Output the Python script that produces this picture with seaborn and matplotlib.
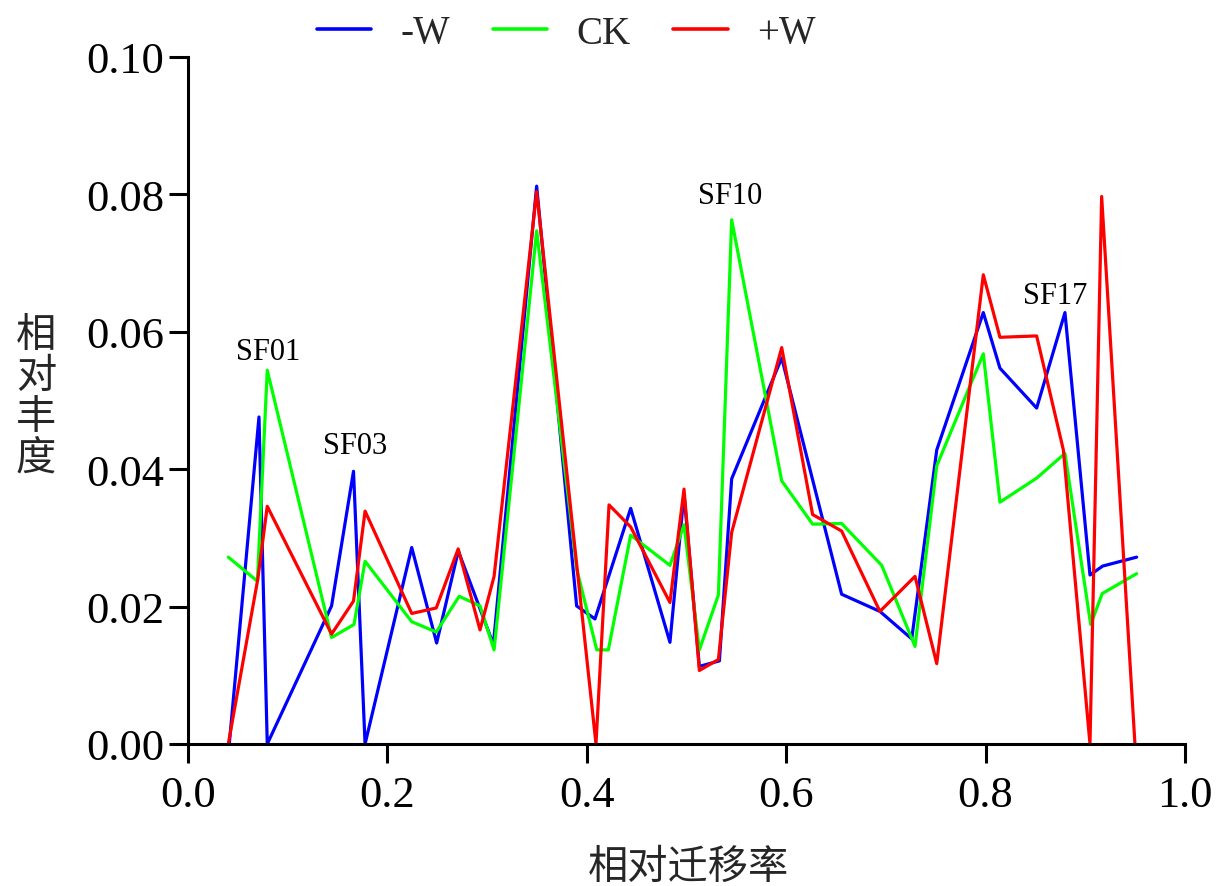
import numpy as np
import pandas as pd
import matplotlib
matplotlib.use("Agg")
import matplotlib.pyplot as plt
import seaborn as sns

# Relative abundance of each band against its relative migration rate
series_names = ["-W", "CK", "+W"]
series_colors = ["#0000FF", "#00FF00", "#FF0000"]

x_minus_w = [0.0414, 0.0712, 0.0795, 0.144, 0.166, 0.1776, 0.2244, 0.2494, 0.2711,
             0.3063, 0.3497, 0.3898, 0.4082, 0.444, 0.4834, 0.4975, 0.5129, 0.533,
             0.5453, 0.5955, 0.6556, 0.694, 0.7259, 0.751, 0.7977, 0.8144, 0.8512,
             0.8796, 0.9047, 0.9174, 0.9515]
y_minus_w = [0.0, 0.0476, 0.0, 0.0201, 0.0397, 0.0, 0.0286, 0.0147, 0.0281,
             0.0145, 0.0812, 0.0201, 0.0182, 0.0343, 0.0148, 0.0364, 0.0113, 0.0121,
             0.0386, 0.0562, 0.0218, 0.0193, 0.0153, 0.0428, 0.0628, 0.0547, 0.0489,
             0.0628, 0.0246, 0.0259, 0.0272]

x_ck = [0.0404, 0.0696, 0.0795, 0.144, 0.1665, 0.1776, 0.2244, 0.249, 0.272,
        0.2929, 0.307, 0.3497, 0.39, 0.41, 0.4216, 0.444, 0.4834, 0.4975, 0.5129,
        0.532, 0.5453, 0.5955, 0.6265, 0.6556, 0.6958, 0.7292, 0.751, 0.7977,
        0.8144, 0.8512, 0.8796, 0.9054, 0.917, 0.9515]
y_ck = [0.0272, 0.0237, 0.0544, 0.0155, 0.0174, 0.0266, 0.0178, 0.0163, 0.0215,
        0.0201, 0.0137, 0.0747, 0.0254, 0.0137, 0.0137, 0.0304, 0.026, 0.0319, 0.0137,
        0.0217, 0.0763, 0.0383, 0.032, 0.0321, 0.026, 0.0142, 0.0405, 0.0568,
        0.0352, 0.0387, 0.0423, 0.0174, 0.0219, 0.0248]

x_plus_w = [0.0404, 0.07, 0.0795, 0.144, 0.166, 0.1776, 0.2244, 0.249, 0.271,
            0.2929, 0.307, 0.3497, 0.4092, 0.4223, 0.444, 0.4834, 0.4975, 0.5129,
            0.532, 0.5453, 0.5955, 0.6265, 0.6556, 0.694, 0.7292, 0.751, 0.7977,
            0.8144, 0.8512, 0.878, 0.9047, 0.9164, 0.9498]
y_plus_w = [0.0, 0.024, 0.0346, 0.016, 0.0208, 0.0339, 0.019, 0.0198, 0.0284,
            0.0166, 0.0244, 0.0804, 0.0, 0.0348, 0.0316, 0.0206, 0.0371, 0.0107,
            0.0123, 0.0308, 0.0577, 0.0334, 0.031, 0.0193, 0.0244, 0.0117, 0.0683,
            0.0592, 0.0594, 0.0428, 0.0, 0.0797, 0.0]

peak_labels = ["SF01", "SF03", "SF10", "SF17"]
peak_x = [0.0802, 0.1675, 0.5436, 0.8696]
peak_y = [0.0571, 0.0435, 0.0799, 0.0653]

x_ticks = [0.0, 0.2, 0.4, 0.6, 0.8, 1.0]
y_ticks = [0.00, 0.02, 0.04, 0.06, 0.08, 0.10]

frames = []
for name, xs, ys in zip(series_names,
                        [x_minus_w, x_ck, x_plus_w],
                        [y_minus_w, y_ck, y_plus_w]):
    frames.append(pd.DataFrame({"rate": xs, "abundance": ys, "group": name,
                                "order": np.arange(len(xs))}))
df = pd.concat(frames, ignore_index=True)

sns.set_theme(style="ticks")
plt.rcParams["font.family"] = ["Liberation Serif", "Noto Sans CJK SC", "DejaVu Sans"]

fig = plt.figure(figsize=(12.16, 8.87), dpi=100)
ax = fig.add_axes([188 / 1216, 1 - 745 / 887, (1185 - 188) / 1216, (745 - 58) / 887])

sns.lineplot(data=df, x="rate", y="abundance", hue="group", hue_order=series_names,
             palette=series_colors, estimator=None, sort=False, units="group",
             linewidth=2.3, ax=ax, legend=False)

ax.set_xlim(0, 1.0)
ax.set_ylim(0, 0.10)
ax.set_xticks(x_ticks)
ax.set_yticks(y_ticks)
ax.set_xticklabels([f"{v:.1f}" for v in x_ticks])
ax.set_yticklabels([f"{v:.2f}" for v in y_ticks])
for side in ["top", "right"]:
    ax.spines[side].set_visible(False)
for side in ["left", "bottom"]:
    ax.spines[side].set_linewidth(2.2)
    ax.spines[side].set_color("black")
ax.tick_params(axis="both", direction="out", length=14, width=2.2, colors="black",
               labelsize=32, pad=3)
ax.tick_params(axis="x", pad=8)
for lab in ax.get_xticklabels() + ax.get_yticklabels():
    lab.set_family("Liberation Serif")

ax.set_xlabel("相对迁移率", fontsize=29, family="Noto Sans CJK SC", labelpad=0,
              va="center")
ax.xaxis.set_label_coords((688 - 188) / 997, -(867 - 745) / 687)
ax.set_ylabel("相\n对\n丰\n度", fontsize=29, family="Noto Sans CJK SC",
              rotation=0, linespacing=1.0, va="center", ha="center")
ax.yaxis.set_label_coords(-(188 - 36) / 997, (745 - 397) / 687)

for txt, px, py in zip(peak_labels, peak_x, peak_y):
    ax.text(px, py, txt, fontsize=22, family="Liberation Serif",
            ha="center", va="center", color="black")

handles = [plt.Line2D([], [], color=c, linewidth=2.6) for c in series_colors]
fig.legend(handles, series_names, loc="center", bbox_to_anchor=(566 / 1216, 1 - 34 / 887),
           ncol=3, frameon=False, prop={"family": "Liberation Serif", "size": 28},
           handlelength=1.4, handletextpad=0.75, columnspacing=1.1, borderaxespad=0)

fig.savefig("out.png", dpi=100, facecolor="white")
